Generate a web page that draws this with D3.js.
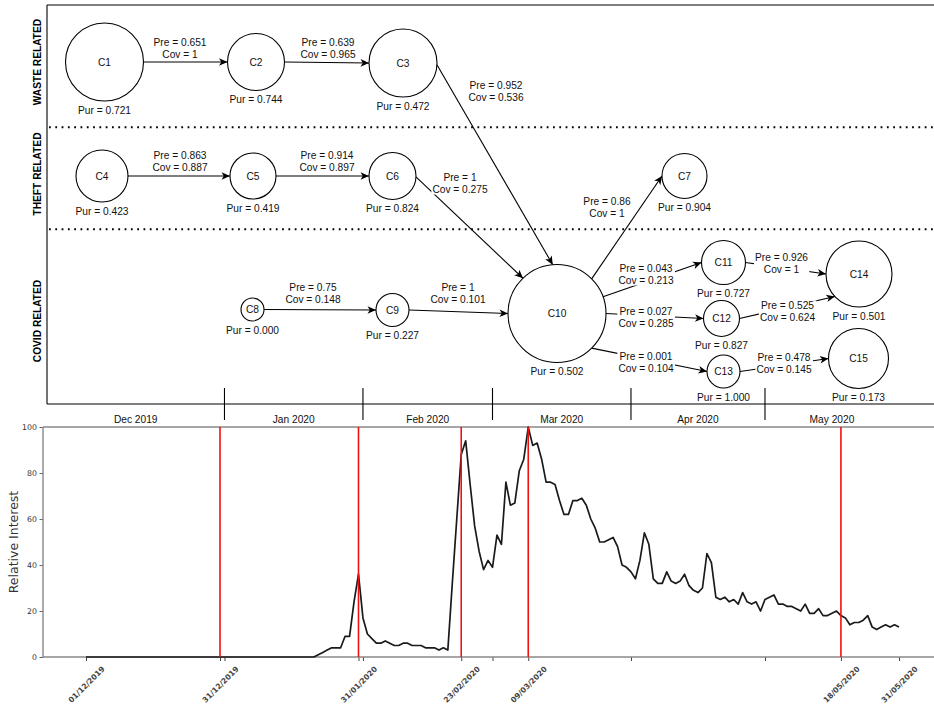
<!DOCTYPE html>
<html>
<head>
<meta charset="utf-8">
<script src="https://cdn.jsdelivr.net/npm/d3@7"></script>
<style>
  body { margin: 0; background: #fff; }
  svg { display: block; }
</style>
</head>
<body>
<svg id="chart" width="934" height="706"></svg>
<script>
// ---------------- cluster evolution data ----------------
const clusterNames  = ["C1","C2","C3","C4","C5","C6","C7","C8","C9","C10","C11","C12","C13","C14","C15"];
const clusterPurity = [0.721,0.744,0.472,0.423,0.419,0.824,0.904,0.000,0.227,0.502,0.727,0.827,1.000,0.501,0.173];
const groupNames    = ["WASTE RELATED","THEFT RELATED","COVID RELATED"];

const edgeFrom = ["C1","C2","C3","C4","C5","C6","C10","C8","C9","C10","C10","C10","C11","C12","C13"];
const edgeTo   = ["C2","C3","C10","C5","C6","C10","C7","C9","C10","C11","C12","C13","C14","C14","C15"];
const edgePre  = [0.651,0.639,0.952,0.863,0.914,1,0.86,0.75,1,0.043,0.027,0.001,0.926,0.525,0.478];
const edgeCov  = [1,0.965,0.536,0.887,0.897,0.275,1,0.148,0.101,0.213,0.285,0.104,1,0.624,0.145];

// ---------------- daily relative search interest ----------------
const seriesStart = "2019-12-01";
const interest = [
  0,0,0,0,0,0,0,0,0,0,
  0,0,0,0,0,0,0,0,0,0,
  0,0,0,0,0,0,0,0,0,0,
  0,0,0,0,0,0,0,0,0,0,
  0,0,0,0,0,0,0,0,0,0,
  0,0,1,2,3,4,4,4,9,9,
  24,36,17,10,8,6,6,7,6,5,
  5,6,6,5,5,5,4,4,4,3,
  4,3,32,60,88,94,75,57,46,38,
  42,39,53,49,76,66,67,81,86,100,
  92,93,86,76,76,75,68,62,62,68,
  68,69,66,60,56,50,50,51,52,48,
  40,39,37,34,42,54,49,34,32,32,
  37,33,32,33,36,31,29,28,30,45,
  41,26,25,26,24,25,23,28,24,23,
  24,20,25,26,27,23,23,22,22,21,
  20,23,19,19,21,18,18,19,20,18,
  17,14,15,15,16,18,13,12,13,14,
  13,14,13
];
const labelledTicks = ["2019-12-01","2019-12-31","2020-01-31","2020-02-23","2020-03-09","2020-05-18","2020-05-31"];
const monthTicks    = ["2020-01-01","2020-02-01","2020-03-01","2020-04-01","2020-05-01"];
const eventDates    = ["2019-12-31","2020-01-31","2020-02-23","2020-03-09","2020-05-18"];
const monthLabels   = ["Dec 2019","Jan 2020","Feb 2020","Mar 2020","Apr 2020","May 2020"];
const yTicks        = [0,20,40,60,80,100];

// ---------------- diagram layout ----------------
const nodeLayout = {
  C1:{x:104.5,y:62,r:39},  C2:{x:256,y:62,r:28.5},  C3:{x:403,y:63,r:34},
  C4:{x:102,y:176,r:26},   C5:{x:253,y:176,r:23},   C6:{x:392.5,y:176,r:23.5},
  C7:{x:684.5,y:176,r:22.5},
  C8:{x:252.5,y:309.5,r:11.5}, C9:{x:392.5,y:310,r:16.5}, C10:{x:557,y:313.5,r:49},
  C11:{x:723.5,y:262.5,r:22}, C12:{x:721.5,y:318.5,r:18}, C13:{x:723.5,y:371.5,r:16.5},
  C14:{x:859,y:274,r:33},  C15:{x:858.5,y:358.5,r:30}
};
// exit / entry port angles (degrees, screen orientation) and label centres
const edgeLayout = [
  {out:0,  in:180,  lx:180,   ly:48.5},
  {out:0,  in:180,  lx:328,   ly:48.5},
  {out:3,  in:-95,  lx:496,   ly:91.5},
  {out:0,  in:180,  lx:180,   ly:161},
  {out:0,  in:180,  lx:327,   ly:161},
  {out:2,  in:-134, lx:460,   ly:183},
  {out:-45,in:180,  lx:607,   ly:207},
  {out:0,  in:180,  lx:313,   ly:293},
  {out:0,  in:180,  lx:458,   ly:293},
  {out:-20,in:180,  lx:646,   ly:274},
  {out:0,  in:180,  lx:646,   ly:317},
  {out:45, in:180,  lx:646,   ly:362.5},
  {out:0,  in:180,  lx:781.5, ly:263.3},
  {out:0,  in:137,  lx:787.5, ly:311.7},
  {out:0,  in:180,  lx:784,   ly:363}
];
const groupCentres = [62, 174, 321];
const box = {left:47, right:934, top:5, bottom:404, dividers:[127.3, 229.3]};

const svg = d3.select("#chart");
const sansDraw = "'Liberation Sans', Arial, Helvetica, sans-serif";
const sansPlot = "'DejaVu Sans', sans-serif";

// arrow head
svg.append("defs").append("marker")
  .attr("id","arrow").attr("markerUnits","userSpaceOnUse")
  .attr("viewBox","-9 -5 10 10").attr("refX",0).attr("refY",0)
  .attr("markerWidth",10).attr("markerHeight",10).attr("orient","auto")
  .append("path").attr("d","M0,0 L-8.5,-3.8 L-6.2,0 L-8.5,3.8 Z").attr("fill","#000");

// ---------------- diagram frame ----------------
const diag = svg.append("g");
diag.append("line").attr("x1",box.left).attr("x2",box.right).attr("y1",box.top).attr("y2",box.top)
  .attr("stroke","#555").attr("stroke-width",1.6);
diag.append("line").attr("x1",box.left).attr("x2",box.right).attr("y1",box.bottom).attr("y2",box.bottom)
  .attr("stroke","#555").attr("stroke-width",1.6);
diag.append("line").attr("x1",box.left).attr("x2",box.left).attr("y1",box.top).attr("y2",box.bottom)
  .attr("stroke","#000").attr("stroke-width",1.1);
box.dividers.forEach(yv => {
  diag.append("line").attr("x1",box.left+2).attr("x2",box.right).attr("y1",yv).attr("y2",yv)
    .attr("stroke","#000").attr("stroke-width",2).attr("stroke-dasharray","1.8,4.5");
});
groupNames.forEach((g,i) => {
  diag.append("text")
    .attr("transform",`translate(37,${groupCentres[i]}) rotate(-90)`)
    .attr("text-anchor","middle").attr("dy","0.36em")
    .attr("font-family",sansDraw).attr("font-weight","bold").attr("font-size",10.2)
    .attr("fill","#000").text(g);
});

// ---------------- edges ----------------
const rad = Math.PI/180;
const edges = edgeFrom.map((f,i) => {
  const s = nodeLayout[f], t = nodeLayout[edgeTo[i]], L = edgeLayout[i];
  return {
    x1: s.x + s.r*Math.cos(L.out*rad), y1: s.y + s.r*Math.sin(L.out*rad),
    x2: t.x + t.r*Math.cos(L.in*rad),  y2: t.y + t.r*Math.sin(L.in*rad),
    lx: L.lx, ly: L.ly, pre: edgePre[i], cov: edgeCov[i]
  };
});
diag.append("g").selectAll("line").data(edges).join("line")
  .attr("x1",d=>d.x1).attr("y1",d=>d.y1).attr("x2",d=>d.x2).attr("y2",d=>d.y2)
  .attr("stroke","#000").attr("stroke-width",1.1).attr("marker-end","url(#arrow)");

// ---------------- nodes ----------------
const nodes = clusterNames.map((n,i) => Object.assign({name:n, pur:clusterPurity[i]}, nodeLayout[n]));
const ng = diag.append("g").selectAll("g").data(nodes).join("g");
ng.append("circle").attr("cx",d=>d.x).attr("cy",d=>d.y).attr("r",d=>d.r)
  .attr("fill","#fff").attr("stroke","#000").attr("stroke-width",1.1);
ng.append("text").attr("x",d=>d.x).attr("y",d=>d.y+3.6).attr("text-anchor","middle")
  .attr("font-family",sansDraw).attr("font-size",10.2).attr("fill","#111").text(d=>d.name);
ng.append("text").attr("x",d=>d.x).attr("y",d=>d.y+d.r+12.6).attr("text-anchor","middle")
  .attr("font-family",sansDraw).attr("font-size",10.2).attr("fill","#111")
  .text(d=>"Pur = " + d3.format(".3f")(d.pur));

// ---------------- edge labels ----------------
const lg = diag.append("g").selectAll("g").data(edges).join("g");
lg.each(function(d){
  const g = d3.select(this);
  const bg = g.append("rect").attr("fill","#fff");
  const t = g.append("g");
  t.append("text").attr("x",d.lx).attr("y",d.ly-5.9+3.6).text("Pre = " + String(d.pre));
  t.append("text").attr("x",d.lx).attr("y",d.ly+5.9+3.6).text("Cov = " + String(d.cov));
  t.selectAll("text").attr("text-anchor","middle").attr("font-family",sansDraw)
    .attr("font-size",10.2).attr("fill","#111");
  const bb = t.node().getBBox();
  bg.attr("x",bb.x-1).attr("y",bb.y).attr("width",bb.width+2).attr("height",bb.height);
});

// ---------------- interest chart ----------------
const parse = d3.timeParse("%Y-%m-%d");
const fmt = d3.timeFormat("%d/%m/%Y");
const t0 = parse(seriesStart);
const series = interest.map((v,i) => ({date: d3.timeDay.offset(t0,i), value: v}));

const plot = {left:43, right:934, top:427, bottom:657};
const x = d3.scaleTime().domain([t0, parse("2020-05-31")]).range([86, 899]);
const y = d3.scaleLinear().domain([0,100]).range([plot.bottom, plot.top]);

const chart = svg.append("g");

// month band above the chart
const monthStarts = monthTicks.map(parse);
const bandEdges = [box.left, ...monthStarts.map(x), x(parse("2020-05-31"))];
chart.append("g").selectAll("line").data(monthStarts).join("line")
  .attr("x1",d=>x(d)).attr("x2",d=>x(d)).attr("y1",388).attr("y2",420)
  .attr("stroke","#000").attr("stroke-width",1.1);
chart.append("g").selectAll("text").data(monthLabels).join("text")
  .attr("x",(d,i)=>(bandEdges[i]+bandEdges[i+1])/2).attr("y",422.5)
  .attr("text-anchor","middle").attr("font-family",sansDraw).attr("font-size",10.2)
  .attr("fill","#111").text(d=>d);

// y axis
const yAxis = chart.append("g").attr("transform",`translate(${plot.left},0)`)
  .call(d3.axisLeft(y).tickValues(yTicks).tickSize(3.5).tickPadding(2.5));
yAxis.select(".domain").remove();
yAxis.selectAll(".tick line").attr("stroke","#666").attr("stroke-width",1);
yAxis.selectAll(".tick text").attr("font-family",sansPlot).attr("font-size",7.8).attr("fill","#333");

// x axis
const labelSet = new Set(labelledTicks);
const xTickDates = [...labelledTicks, ...monthTicks.filter(m=>!labelSet.has(m))].map(parse)
  .sort((a,b)=>a-b);
const xAxis = chart.append("g").attr("transform",`translate(0,${plot.bottom})`)
  .call(d3.axisBottom(x).tickValues(xTickDates).tickSize(4)
    .tickFormat(d => labelSet.has(d3.timeFormat("%Y-%m-%d")(d)) ? fmt(d) : ""));
xAxis.select(".domain").remove();
xAxis.selectAll(".tick line").attr("stroke","#444").attr("stroke-width",1);
xAxis.selectAll(".tick text")
  .attr("y",0).attr("dy","0.35em")
  .attr("transform","translate(0,27.5) rotate(-45)")
  .attr("text-anchor","middle")
  .attr("font-family",sansPlot).attr("font-size",7.6).attr("font-weight","bold").attr("fill","#444");

// spines
chart.append("line").attr("x1",plot.left).attr("x2",plot.right).attr("y1",plot.top).attr("y2",plot.top)
  .attr("stroke","#888").attr("stroke-width",1.4);
chart.append("line").attr("x1",plot.left).attr("x2",plot.right).attr("y1",plot.bottom).attr("y2",plot.bottom)
  .attr("stroke","#888").attr("stroke-width",1.4);
chart.append("line").attr("x1",plot.left).attr("x2",plot.left).attr("y1",plot.top).attr("y2",plot.bottom)
  .attr("stroke","#888").attr("stroke-width",1.4);

// y label
chart.append("text").attr("transform",`translate(13,${(plot.top+plot.bottom)/2}) rotate(-90)`)
  .attr("text-anchor","middle").attr("dy","0.36em")
  .attr("font-family",sansPlot).attr("font-size",12.5).attr("fill","#333")
  .text("Relative Interest");

// interest line
chart.append("path").datum(series)
  .attr("d", d3.line().x(d=>x(d.date)).y(d=>y(d.value)))
  .attr("fill","none").attr("stroke","#1a1a1a").attr("stroke-width",1.7).attr("stroke-linejoin","round");

// event markers
chart.append("g").selectAll("line").data(eventDates.map(parse)).join("line")
  .attr("x1",d=>x(d)).attr("x2",d=>x(d)).attr("y1",plot.top).attr("y2",plot.bottom)
  .attr("stroke","#f01010").attr("stroke-width",1.6);
</script>
</body>
</html>
